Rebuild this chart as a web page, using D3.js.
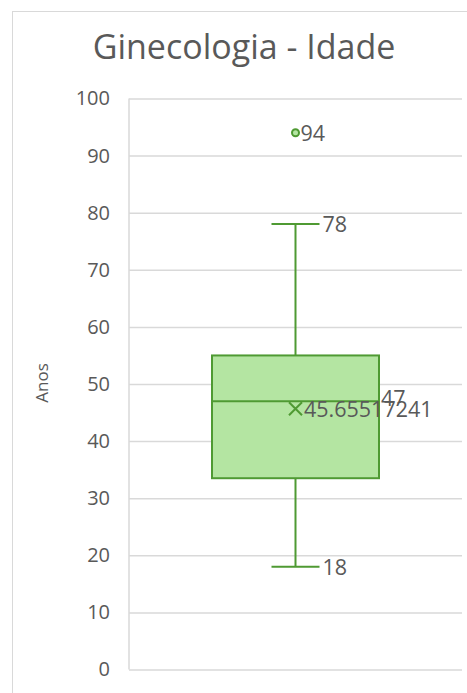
<!DOCTYPE html>
<html>
<head>
<meta charset="utf-8">
<script src="https://cdn.jsdelivr.net/npm/d3@7"></script>
<style>
  body { margin: 0; background: #fff; }
  svg { display: block; }
</style>
</head>
<body>
<script>
// chart values
const categories = ["Ginecologia"];
const whiskerLow = [18];
const quartile1 = [33.5];
const medians = [47];
const quartile3 = [55];
const whiskerHigh = [78];
const means = [45.65517241];
const outliers = [94];
const yTicks = [0, 10, 20, 30, 40, 50, 60, 70, 80, 90, 100];

const width = 467, height = 693;
const marginLeft = 129, marginRight = 5, marginTop = 98.5, marginBottom = 23.5;
const textColor = "#595959";
const gridColor = "#d9d9d9";
const green = "#4f9a33";
const boxFill = "#b4e5a2";
const font = "Open Sans, sans-serif";
const labelSize = 21.5;

const svg = d3.select("body").append("svg")
  .attr("width", width)
  .attr("height", height)
  .attr("viewBox", [0, 0, width, height]);

// outer chart border
svg.append("rect")
  .attr("x", 12.5).attr("y", 11.5)
  .attr("width", width).attr("height", height)
  .attr("fill", "none")
  .attr("stroke", gridColor);

const y = d3.scaleLinear([0, 100], [height - marginBottom, marginTop]);
const x = d3.scaleBand(categories, [marginLeft, width - marginRight]).paddingInner(0).paddingOuter(0.25);

// y axis + gridlines
svg.append("g")
  .attr("transform", `translate(${marginLeft},0)`)
  .call(d3.axisLeft(y).tickValues(yTicks).tickSize(-(width - marginRight - marginLeft)).tickPadding(19))
  .call((g) => g.select(".domain").remove())
  .call((g) => g.selectAll(".tick line").attr("stroke", gridColor).attr("stroke-width", 1.5))
  .call((g) => g.selectAll(".tick text")
    .attr("fill", textColor)
    .attr("font-size", 20)
    .attr("font-family", font));

// vertical axis line
svg.append("line")
  .attr("x1", marginLeft).attr("x2", marginLeft)
  .attr("y1", marginTop).attr("y2", y(0))
  .attr("stroke", gridColor).attr("stroke-width", 1.5);

// title
svg.append("text")
  .attr("x", 244).attr("y", 59)
  .attr("text-anchor", "middle")
  .attr("fill", textColor)
  .attr("font-size", 34)
  .attr("font-family", font)
  .text("Ginecologia - Idade");

// y axis title
svg.append("text")
  .attr("transform", `translate(48,383) rotate(-90)`)
  .attr("text-anchor", "middle")
  .attr("fill", textColor)
  .attr("font-size", 17)
  .attr("font-family", font)
  .text("Anos");

const boxW = 167, capW = 48;
const g = svg.append("g");

categories.forEach((c, i) => {
  const cx = x(c) + x.bandwidth() / 2;
  // whiskers
  g.append("line")
    .attr("x1", cx).attr("x2", cx)
    .attr("y1", y(whiskerHigh[i])).attr("y2", y(whiskerLow[i]))
    .attr("stroke", green).attr("stroke-width", 2);
  [whiskerLow[i], whiskerHigh[i]].forEach((v) => {
    g.append("line")
      .attr("x1", cx - capW / 2).attr("x2", cx + capW / 2)
      .attr("y1", y(v)).attr("y2", y(v))
      .attr("stroke", green).attr("stroke-width", 2);
    g.append("text")
      .attr("x", cx + capW / 2 + 3).attr("y", y(v) + 8)
      .attr("fill", textColor).attr("font-size", labelSize).attr("font-family", font)
      .text(v);
  });
  // box
  g.append("rect")
    .attr("x", cx - boxW / 2).attr("width", boxW)
    .attr("y", y(quartile3[i])).attr("height", y(quartile1[i]) - y(quartile3[i]))
    .attr("fill", boxFill).attr("stroke", green).attr("stroke-width", 2);
  // median
  g.append("line")
    .attr("x1", cx - boxW / 2).attr("x2", cx + boxW / 2)
    .attr("y1", y(medians[i])).attr("y2", y(medians[i]))
    .attr("stroke", green).attr("stroke-width", 2);
  g.append("text")
    .attr("x", cx + boxW / 2 + 2).attr("y", y(medians[i]) + 5)
    .attr("fill", textColor).attr("font-size", labelSize).attr("font-family", font)
    .text(medians[i]);
  // mean marker
  const my = y(means[i]), s = 6.5;
  g.append("path")
    .attr("d", `M${cx - s},${my - s}L${cx + s},${my + s}M${cx - s},${my + s}L${cx + s},${my - s}`)
    .attr("stroke", green).attr("stroke-width", 2);
  g.append("text")
    .attr("x", cx + s + 2).attr("y", my + 8)
    .attr("fill", textColor).attr("font-size", labelSize).attr("font-family", font)
    .text(means[i]);
  // outliers
  outliers.forEach((v) => {
    g.append("circle")
      .attr("cx", cx).attr("cy", y(v)).attr("r", 3.5)
      .attr("fill", boxFill).attr("stroke", green).attr("stroke-width", 2);
    g.append("text")
      .attr("x", cx + 5).attr("y", y(v) + 8)
      .attr("fill", textColor).attr("font-size", labelSize).attr("font-family", font)
      .text(v);
  });
});
</script>
</body>
</html>
